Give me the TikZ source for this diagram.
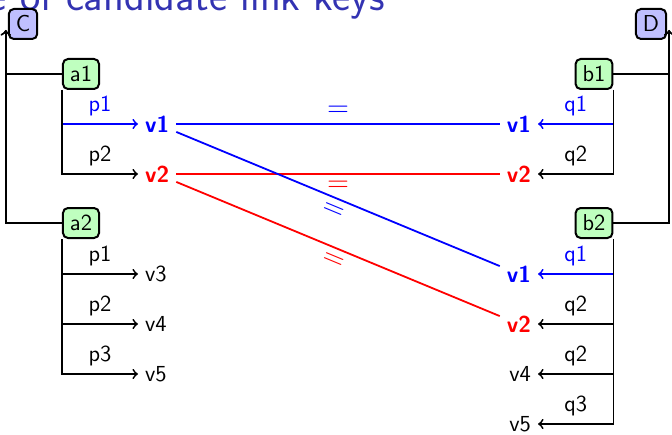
\documentclass[tikz,border=0pt]{standalone}
\usepackage{tikz}
\usetikzlibrary{positioning}
\definecolor{titleblue}{rgb}{0.2,0.2,0.7}
\definecolor{classfill}{RGB}{191,191,255}
\definecolor{itemfill}{RGB}{191,255,191}

\begin{document}
\begin{tikzpicture}[x=0.5pt, y=0.5pt,
    font=\sffamily\fontsize{11.5}{14}\selectfont,
    cls/.style={rounded corners=2.5pt, draw=black, fill=classfill, line width=1pt,
                inner xsep=3.5pt, inner ysep=0pt, minimum height=15pt},
    inst/.style={cls, fill=itemfill},
    val/.style={},
    keyval/.style={font=\sffamily\bfseries\fontsize{11.5}{14}\selectfont},
    edge/.style={->, line width=0.9pt},
    link/.style={line width=0.9pt},
    eq/.style={font=\fontsize{15}{18}\selectfont, sloped},
  ]
    \useasboundingbox (0,0) rectangle (672,434);
    \node[anchor=base east, inner sep=0pt, text=titleblue,
          font=\sffamily\fontsize{21.5}{26}\selectfont] (title) at (385,423) {e of candidate link keys};
    % classes and instances
    \node[cls]  (C)  at (23,410)  {C};
    \node[cls]  (D)  at (651,410) {D};
    \node[inst] (a1) at (81,360)  {a1};
    \node[inst] (a2) at (81,211)  {a2};
    \node[inst] (b1) at (594,360) {b1};
    \node[inst] (b2) at (594,211) {b2};
    \coordinate (cC) at ([xshift=-1pt,yshift=-3pt]C.west);
    \coordinate (cD) at ([xshift=1pt,yshift=-3pt]D.east);
    % property values
    \node[keyval, text=blue, anchor=west] (l1) at (138,310) {v1};
    \node[keyval, text=red,  anchor=west] (l2) at (138,260) {v2};
    \node[val, anchor=west] (l3) at (138,160) {v3};
    \node[val, anchor=west] (l4) at (138,110) {v4};
    \node[val, anchor=west] (l5) at (138,60)  {v5};
    \node[keyval, text=blue, anchor=east] (r1) at (538,310) {v1};
    \node[keyval, text=red,  anchor=east] (r2) at (538,260) {v2};
    \node[keyval, text=blue, anchor=east] (r3) at (538,160) {v1};
    \node[keyval, text=red,  anchor=east] (r4) at (538,110) {v2};
    \node[val, anchor=east] (r5) at (538,60) {v4};
    \node[val, anchor=east] (r6) at (538,10) {v5};
    % instance to class
    \foreach \i in {a1,a2} \draw[edge] (\i.west) -| (cC);
    \foreach \i in {b1,b2} \draw[edge] (\i.east) -| (cD);
    % properties
    \draw[edge, blue] (a1.south west) |- node[pos=0.75, above] {p1} (l1.west);
    \draw[edge, blue] (b1.south east) |- node[pos=0.75, above] {q1} (r1.east);
    \draw[edge, blue] (b2.south east) |- node[pos=0.75, above] {q1} (r3.east);
    \foreach \s/\t/\p in {a1/l2/p2, a2/l3/p1, a2/l4/p2, a2/l5/p3}
      \draw[edge] (\s.south west) |- node[pos=0.75, above] {\p} (\t.west);
    \foreach \s/\t/\p in {b1/r2/q2, b2/r4/q2, b2/r5/q2, b2/r6/q3}
      \draw[edge] (\s.south east) |- node[pos=0.75, above] {\p} (\t.east);
    % links
    \draw[link, blue] (l1) -- node[eq, above] {$=$} (r1);
    \draw[link, red]  (l2) -- node[eq, below] {$=$} (r2);
    \draw[link, blue] (l1) -- node[eq, below] {$=$} (r3);
    \draw[link, red]  (l2) -- node[eq, below] {$=$} (r4);
\end{tikzpicture}
\end{document}
